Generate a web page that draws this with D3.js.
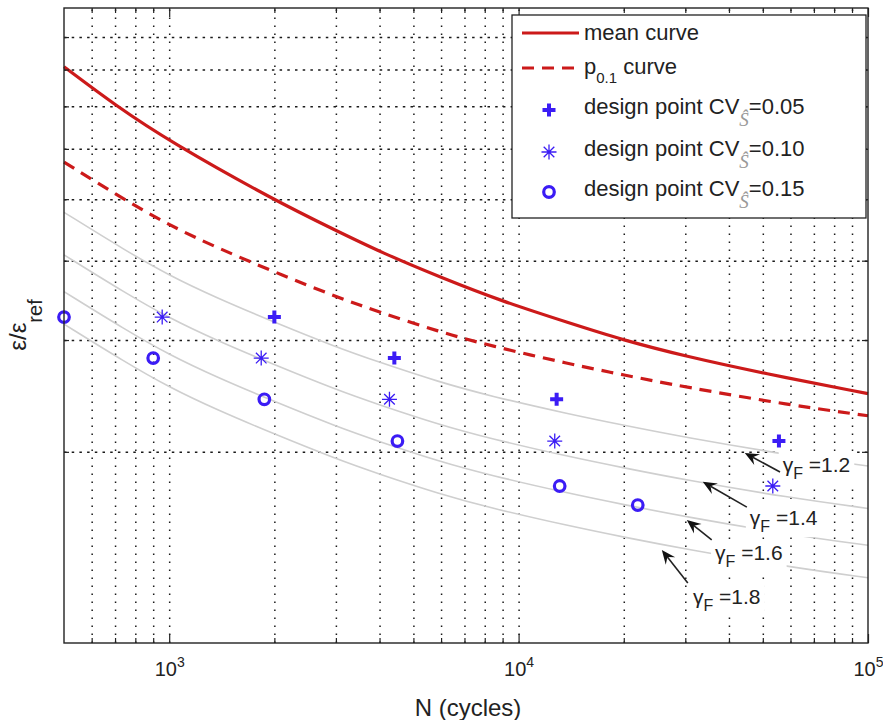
<!DOCTYPE html>
<html>
<head>
<meta charset="utf-8">
<script src="https://cdn.jsdelivr.net/npm/d3@7/dist/d3.min.js"></script>
<style>
  body { margin: 0; background: #fff; }
  svg { display: block; font-family: "Liberation Sans", Arial, Helvetica, sans-serif; }
</style>
</head>
<body>
<svg id="chart" width="883" height="720"></svg>
<script>
// ---- data -----------------------------------------------------------
// mean strain-life curve
const meanN   = [500, 705, 1000, 2000, 3010, 4050, 6020, 9000, 14000, 19860, 29900, 50000, 100000];
const meanVal = [8.08, 7.01, 6.17, 4.98, 4.46, 4.12, 3.76, 3.45, 3.19, 3.00, 2.83, 2.66, 2.47];

// p0.1 curve and the design curves (p0.1 reduced by the partial factor gamma_F)
const curveN  = [500, 750, 1000, 1360, 2000, 3000, 4000, 5940, 8260, 14000, 19860, 29900, 59800, 100000];
const p01Val  = [5.72, 4.98, 4.55, 4.20, 3.84, 3.51, 3.32, 3.09, 2.94, 2.75, 2.645, 2.53, 2.37, 2.28];
const gF12Val = [4.767, 4.150, 3.792, 3.500, 3.200, 2.925, 2.767, 2.575, 2.450, 2.292, 2.204, 2.108, 1.975, 1.900];
const gF14Val = [4.086, 3.557, 3.250, 3.000, 2.743, 2.507, 2.371, 2.207, 2.100, 1.964, 1.889, 1.807, 1.693, 1.629];
const gF16Val = [3.575, 3.113, 2.844, 2.625, 2.400, 2.194, 2.075, 1.931, 1.838, 1.719, 1.653, 1.581, 1.481, 1.425];
const gF18Val = [3.178, 2.767, 2.528, 2.333, 2.133, 1.950, 1.844, 1.717, 1.633, 1.528, 1.469, 1.406, 1.317, 1.267];
const gammaLabels = ["1.2", "1.4", "1.6", "1.8"];

// design points
const cv05N = [2000, 4410, 12850, 55600];
const cv05Val = [3.26, 2.81, 2.42, 2.08];
const cv10N = [955, 1834, 4270, 12690, 53400];
const cv10Val = [3.26, 2.81, 2.42, 2.08, 1.767];
const cv15N = [500, 900, 1872, 4500, 13110, 21930];
const cv15Val = [3.26, 2.81, 2.42, 2.08, 1.767, 1.649];

// annotation anchors (data coordinates)
const arrowTailN   = [56000, 45000, 35700, 30500];
const arrowTailVal = [1.859, 1.637, 1.453, 1.243];
const arrowHeadN   = [44400, 33650, 30300, 25700];
const arrowHeadVal = [1.992, 1.794, 1.562, 1.401];
const labelN   = [57000, 45900, 36500, 31550];
const labelVal = [1.907, 1.573, 1.386, 1.181];

// axis ticks
const xMajorTicks = [1e3, 1e4, 1e5];
const xTickExp = ["3", "4", "5"];
const yGridVals = [2, 3, 4, 5, 6, 7, 8, 9];

// ---- layout ---------------------------------------------------------
const L = 64, R = 868, T = 8, B = 643;
const RED = "#cc1a1a", BLUE = "#3b1cf5", GRAY = "#cfcfcf";

const svg = d3.select("#chart");
svg.append("rect").attr("width", 883).attr("height", 720).attr("fill", "#fff");

const x = d3.scaleLog().domain([500, 1e5]).range([L, R]);
const y = d3.scaleLog().domain([1, 10]).range([B, T]);

const xAllTicks = x.ticks().filter(v => v > 500);
const xMinorTicks = xAllTicks.filter(v => !xMajorTicks.includes(v));

// ---- grid -----------------------------------------------------------
const grid = svg.append("g");
grid.append("g")
  .attr("transform", `translate(0,${B})`)
  .call(d3.axisBottom(x).tickValues(xAllTicks.filter(v => v < 1e5)).tickSize(-(B - T)).tickFormat(""))
  .call(g => g.select(".domain").remove())
  .call(g => g.selectAll(".tick line")
    .attr("stroke", "#1a1a1a").attr("stroke-width", 1.5).attr("stroke-dasharray", "1.6,6.4"));
grid.append("g")
  .attr("transform", `translate(${L},0)`)
  .call(d3.axisLeft(y).tickValues(yGridVals).tickSize(-(R - L)).tickFormat(""))
  .call(g => g.select(".domain").remove())
  .call(g => g.selectAll(".tick line")
    .attr("stroke", "#1a1a1a").attr("stroke-width", 1.5).attr("stroke-dasharray", "2.5,5.2"));

// ---- curves ---------------------------------------------------------
const line = d3.line().x(d => x(d[0])).y(d => y(d[1])).curve(d3.curveBasis);
const zip = (a, b) => a.map((v, i) => [v, b[i]]);

const designCurves = [gF12Val, gF14Val, gF16Val, gF18Val];
svg.append("g").selectAll("path").data(designCurves).join("path")
  .attr("d", vals => line(zip(curveN, vals)))
  .attr("fill", "none").attr("stroke", GRAY).attr("stroke-width", 1.6);

// gamma_F annotations, each on a white box that hides what is behind it
const ann = svg.append("g");
gammaLabels.forEach((lab, i) => {
  const gg = ann.append("g");
  const t = gg.append("text")
    .attr("x", x(labelN[i])).attr("y", y(labelVal[i]) + 7)
    .attr("font-size", 21).attr("fill", "#222");
  t.append("tspan").text("\u03B3");
  t.append("tspan").attr("font-size", 16).attr("dy", 7).text("F");
  t.append("tspan").attr("dy", -7).text(" =" + lab);
  const bb = t.node().getBBox();
  gg.insert("rect", "text")
    .attr("x", bb.x - 4).attr("y", bb.y - 2)
    .attr("width", bb.width + 8).attr("height", bb.height + 4)
    .attr("fill", "#fff");
});

svg.append("path").attr("d", line(zip(curveN, p01Val)))
  .attr("fill", "none").attr("stroke", RED).attr("stroke-width", 3.2)
  .attr("stroke-dasharray", "12,8");
svg.append("path").attr("d", line(zip(meanN, meanVal)))
  .attr("fill", "none").attr("stroke", RED).attr("stroke-width", 3.2);

// ---- markers --------------------------------------------------------
function plusMark(g) {
  g.append("path").attr("d", "M-6.5,0H6.5M0,-6.5V6.5")
    .attr("stroke", BLUE).attr("stroke-width", 4).attr("fill", "none");
}
function starMark(g) {
  g.append("path").attr("d", "M-7.5,0H7.5M0,-7.5V7.5M-5.3,-5.3L5.3,5.3M-5.3,5.3L5.3,-5.3")
    .attr("stroke", BLUE).attr("stroke-width", 1.3).attr("fill", "none");
}
function circleMark(g) {
  g.append("circle").attr("r", 5.3)
    .attr("stroke", BLUE).attr("stroke-width", 3.2).attr("fill", "none");
}
const marks = svg.append("g");
zip(cv05N, cv05Val).forEach(d => marks.append("g").attr("transform", `translate(${x(d[0])},${y(d[1])})`).call(plusMark));
zip(cv10N, cv10Val).forEach(d => marks.append("g").attr("transform", `translate(${x(d[0])},${y(d[1])})`).call(starMark));
zip(cv15N, cv15Val).forEach(d => marks.append("g").attr("transform", `translate(${x(d[0])},${y(d[1])})`).call(circleMark));

// ---- arrows ---------------------------------------------------------
const arrows = svg.append("g");
arrowTailN.forEach((n, i) => {
  const x0 = x(n), y0 = y(arrowTailVal[i]);
  const x1 = x(arrowHeadN[i]), y1 = y(arrowHeadVal[i]);
  const ang = Math.atan2(y1 - y0, x1 - x0);
  const hl = 14, hw = 6, notch = 9;
  const ux = Math.cos(ang), uy = Math.sin(ang), px = -uy, py = ux;
  const bx = x1 - ux * hl, by = y1 - uy * hl;
  const nx = x1 - ux * notch, ny = y1 - uy * notch;
  arrows.append("line").attr("x1", x0).attr("y1", y0).attr("x2", nx).attr("y2", ny)
    .attr("stroke", "#222").attr("stroke-width", 1.6);
  arrows.append("path")
    .attr("d", `M${x1},${y1}L${bx + px * hw},${by + py * hw}L${nx},${ny}L${bx - px * hw},${by - py * hw}Z`)
    .attr("fill", "#111");
});

// ---- axes box and ticks --------------------------------------------
const axes = svg.append("g");
const tickStyle = g => g.selectAll(".tick line").attr("stroke", "#222").attr("stroke-width", 1.2);
const noDomain = g => g.select(".domain").remove();
// bottom
axes.append("g").attr("transform", `translate(0,${B})`)
  .call(d3.axisBottom(x).tickValues(xMinorTicks).tickSize(-5).tickFormat("")).call(noDomain).call(tickStyle);
const bottomMajor = axes.append("g").attr("transform", `translate(0,${B})`)
  .call(d3.axisBottom(x).tickValues(xMajorTicks).tickSize(-9).tickFormat(""))
  .call(noDomain).call(tickStyle);
// top
axes.append("g").attr("transform", `translate(0,${T})`)
  .call(d3.axisTop(x).tickValues(xMinorTicks).tickSize(-5).tickFormat("")).call(noDomain).call(tickStyle);
axes.append("g").attr("transform", `translate(0,${T})`)
  .call(d3.axisTop(x).tickValues(xMajorTicks).tickSize(-9).tickFormat("")).call(noDomain).call(tickStyle);
// left / right
axes.append("g").attr("transform", `translate(${L},0)`)
  .call(d3.axisLeft(y).tickValues(yGridVals).tickSize(-5).tickFormat("")).call(noDomain).call(tickStyle);
axes.append("g").attr("transform", `translate(${R},0)`)
  .call(d3.axisRight(y).tickValues(yGridVals).tickSize(-6).tickFormat("")).call(noDomain).call(tickStyle);
axes.append("rect").attr("x", L).attr("y", T).attr("width", R - L).attr("height", B - T)
  .attr("fill", "none").attr("stroke", "#222").attr("stroke-width", 1.4);

// decade labels 10^n
bottomMajor.selectAll(".tick").each(function (d, i) {
  const t = d3.select(this).append("text")
    .attr("x", 0).attr("y", 33).attr("text-anchor", "middle")
    .attr("fill", "#222").attr("font-size", 20).attr("font-family", "Liberation Sans, Arial, sans-serif");
  t.append("tspan").text("10");
  t.append("tspan").attr("font-size", 14).attr("dy", -9).text(xTickExp[i]);
});

// ---- axis titles ----------------------------------------------------
svg.append("text").attr("x", 468).attr("y", 716).attr("text-anchor", "middle")
  .attr("font-size", 24).attr("fill", "#222").text("N (cycles)");
const yl = svg.append("text").attr("transform", "translate(26,325) rotate(-90)")
  .attr("text-anchor", "middle").attr("font-size", 24).attr("fill", "#222");
yl.append("tspan").text("\u03B5/\u03B5");
yl.append("tspan").attr("font-size", 20).attr("dy", 16).text("ref");

// ---- legend ---------------------------------------------------------
const lg = svg.append("g");
lg.append("rect").attr("x", 512).attr("y", 15).attr("width", 354).attr("height", 203)
  .attr("fill", "#fff").attr("stroke", "#222").attr("stroke-width", 1.3);
lg.append("line").attr("x1", 522).attr("x2", 579).attr("y1", 33).attr("y2", 33)
  .attr("stroke", RED).attr("stroke-width", 3.2);
lg.append("line").attr("x1", 522).attr("x2", 579).attr("y1", 68).attr("y2", 68)
  .attr("stroke", RED).attr("stroke-width", 3.2).attr("stroke-dasharray", "12,8");
lg.append("text").attr("x", 584).attr("y", 40).attr("font-size", 22).attr("fill", "#222").text("mean curve");
const pl = lg.append("text").attr("x", 584).attr("y", 74).attr("font-size", 22).attr("fill", "#222");
pl.append("tspan").text("p");
pl.append("tspan").attr("font-size", 15).attr("dy", 9).text("0.1");
pl.append("tspan").attr("dy", -9).text(" curve");

const cvRows = [["0.05", 110, plusMark], ["0.10", 152, starMark], ["0.15", 192, circleMark]];
cvRows.forEach(([cv, my, mk]) => {
  lg.append("g").attr("transform", `translate(549,${my})`).call(mk);
  const t = lg.append("text").attr("x", 584).attr("y", my + 4).attr("font-size", 22).attr("fill", "#222");
  t.append("tspan").text("design point CV");
  t.append("tspan").attr("font-size", 19).attr("dy", 12).attr("font-style", "italic")
    .attr("font-family", "Liberation Serif, DejaVu Serif, serif").attr("fill", "#999").text("\u015C");
  t.append("tspan").attr("dy", -12).text("=" + cv);
});
</script>
</body>
</html>
